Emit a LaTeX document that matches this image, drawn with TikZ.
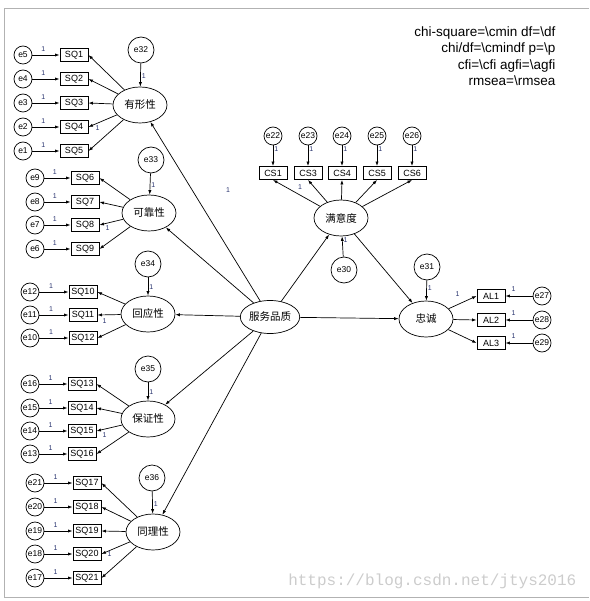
\documentclass[tikz,border=0pt]{standalone}
\usepackage{fontspec}
\setmainfont{Liberation Sans}
\newfontfamily\cjk{Noto Sans CJK SC}
\newfontfamily\wmfont{Liberation Mono}
\usetikzlibrary{arrows.meta,shapes.geometric}

\definecolor{onecol}{RGB}{40,50,110}

\tikzset{
  obs/.style={draw, line width=0.9pt, minimum width=28pt, minimum height=13pt,
              inner sep=0pt, font=\fontsize{9}{9}\selectfont},
  lat/.style={draw, ellipse, minimum width=54pt, minimum height=36pt,
              inner sep=0pt, font=\cjk\fontsize{10.5}{10.5}\selectfont},
  err/.style={draw, circle, minimum size=18pt, inner sep=0pt,
              font=\fontsize{8.5}{8.5}\selectfont},
  errb/.style={err, minimum size=26pt},
  one/.style={font=\fontsize{7}{7}\selectfont, text=onecol, inner sep=1pt}
}

\begin{document}
\begin{tikzpicture}[x=1pt, y=-1pt, >={Latex[length=4.5pt,width=3.2pt]}, line width=0.7pt]
    \useasboundingbox (0,0) rectangle (589,601);
    % 外框
    \draw[gray!60, line width=0.8pt] (589,8) -- (4,8) -- (4,597) -- (589,597);

    % 二阶因子与潜变量
    \node[lat, minimum height=33pt] (fw) at (270,317) {服务品质};
    \node[lat] (yx) at (140,105) {有形性};
    \node[lat] (kk) at (149,213) {可靠性};
    \node[lat] (hy) at (148,314) {回应性};
    \node[lat] (bz) at (148,419) {保证性};
    \node[lat] (tl) at (153,532) {同理性};
    \node[lat] (myd) at (341,218) {满意度};
    \node[lat] (zc) at (426,319) {忠诚};

    % 潜变量残差
    \node[errb] (e32) at (141,50)  {e32};
    \node[errb] (e33) at (151,160) {e33};
    \node[errb] (e34) at (148,264) {e34};
    \node[errb] (e35) at (148,369) {e35};
    \node[errb] (e36) at (152,478) {e36};
    \node[errb] (e30) at (344,270) {e30};
    \node[errb] (e31) at (427,267) {e31};

    \draw[->] (e32) -- node[one, pos=0.55, right] {1} (yx);
    \draw[->] (e33) -- node[one, pos=0.55, right] {1} (kk);
    \draw[->] (e34) -- node[one, pos=0.55, right] {1} (hy);
    \draw[->] (e35) -- node[one, pos=0.55, right] {1} (bz);
    \draw[->] (e36) -- node[one, pos=0.55, right] {1} (tl);
    \draw[->] (e30) -- node[one, pos=0.8, right] {1} (myd);
    \draw[->] (e31) -- node[one, pos=0.4, right] {1} (zc);

    % 结构路径
    \draw[->] (fw) -- node[one, pos=0.62, xshift=36pt] {1} (yx);
    \draw[->] (fw) -- (kk);
    \draw[->] (fw) -- (hy);
    \draw[->] (fw) -- (bz);
    \draw[->] (fw) -- (tl);
    \draw[->] (fw) -- (myd);
    \draw[->] (fw) -- (zc);
    \draw[->] (myd) -- (zc);

    % 有形性
    \foreach \n/\e/\y in {1/5/55, 2/4/79, 3/3/103, 4/2/127, 5/1/151} {
      \node[obs] (sq\n) at (74,\y) {SQ\n};
      \node[err] (e\e) at (23,\y) {e\e};
      \draw[->] (e\e) -- node[one, pos=0.4, above=2pt] {1} (sq\n);
      \draw[->] (yx) -- (sq\n.east);
    }
    \node[one] at ([shift={(9,1)}]sq4.east) {1};

    % 可靠性
    \foreach \n/\e/\y in {6/9/178, 7/8/202, 8/7/225, 9/6/249} {
      \node[obs] (sq\n) at (85,\y) {SQ\n};
      \node[err] (e\e) at (35,\y) {e\e};
      \draw[->] (e\e) -- node[one, pos=0.4, above=2pt] {1} (sq\n);
      \draw[->] (kk) -- (sq\n.east);
    }
    \node[one] at ([shift={(8,3)}]sq8.east) {1};

    % 回应性
    \foreach \n/\e/\y in {10/12/292, 11/11/315, 12/10/338} {
      \node[obs] (sq\n) at (83,\y) {SQ\n};
      \node[err] (e\e) at (30,\y) {e\e};
      \draw[->] (e\e) -- node[one, pos=0.4, above=2pt] {1} (sq\n);
      \draw[->] (hy) -- (sq\n.east);
    }
    \node[one] at ([shift={(7,6)}]sq11.east) {1};

    % 保证性
    \foreach \n/\e/\y in {13/16/384, 14/15/408, 15/14/431, 16/13/454} {
      \node[obs] (sq\n) at (82,\y) {SQ\n};
      \node[err] (e\e) at (30,\y) {e\e};
      \draw[->] (e\e) -- node[one, pos=0.4, above=2pt] {1} (sq\n);
      \draw[->] (bz) -- (sq\n.east);
    }
    \node[one] at ([shift={(8,4)}]sq15.east) {1};

    % 同理性
    \foreach \n/\e/\y in {17/21/483, 18/20/507, 19/19/531, 20/18/554, 21/17/578} {
      \node[obs] (sq\n) at (87,\y) {SQ\n};
      \node[err] (e\e) at (35,\y) {e\e};
      \draw[->] (e\e) -- node[one, pos=0.4, above=2pt] {1} (sq\n);
      \draw[->] (tl) -- (sq\n.east);
    }
    \node[one] at ([shift={(8,0)}]sq20.east) {1};

    % 满意度
    \foreach \n/\e/\x in {1/22/273, 3/23/308, 4/24/342, 5/25/377, 6/26/412} {
      \node[obs] (cs\n) at (\x,173) {CS\n};
      \node[err] (e\e) at (\x,136) {e\e};
      \draw[->] (e\e) -- node[one, pos=0.2, right] {1} (cs\n);
      \draw[->] (myd) -- (cs\n.south);
    }
    \node[one] at ([shift={(-8,7)}]cs3.south) {1};

    % 忠诚
    \foreach \n/\e/\y in {1/27/296, 2/28/320, 3/29/343} {
      \node[obs] (al\n) at (491,\y) {AL\n};
      \node[err] (e\e) at (542,\y) {e\e};
      \draw[->] (e\e) -- node[one, pos=0.7, above=3pt] {1} (al\n);
      \draw[->] (zc) -- (al\n.west);
    }
    \node[one] at ([shift={(-19,-2)}]al1.west) {1};

    % 拟合指标
    \node[align=right, anchor=east, font=\fontsize{13.5}{16.5}\selectfont]
         (fit) at (559,56) {chi-square=\textbackslash cmin df=\textbackslash df\\
                            chi/df=\textbackslash cmindf p=\textbackslash p\\
                            cfi=\textbackslash cfi agfi=\textbackslash agfi\\
                            rmsea=\textbackslash rmsea};

    % 水印
    \node[anchor=east, text=gray!40, font=\wmfont\fontsize{16}{16}\selectfont]
         (wm) at (580,581) {https://blog.csdn.net/jtys2016};
\end{tikzpicture}
\end{document}
